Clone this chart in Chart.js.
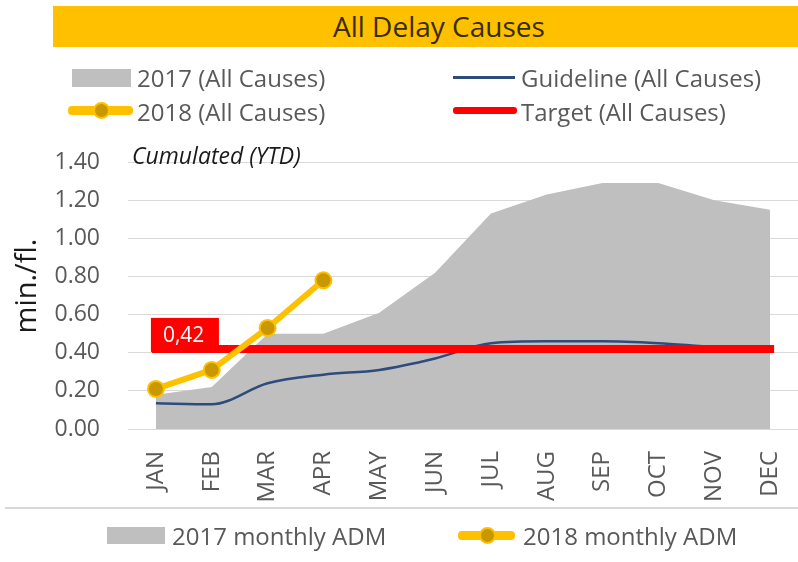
<!DOCTYPE html>
<html>
<head>
<meta charset="utf-8">
<script src="https://cdn.jsdelivr.net/npm/chart.js@4.4.1/dist/chart.umd.min.js"></script>
<style>
body{margin:0;background:#fff;font-family:"Open Sans",sans-serif;}
#wrap{position:relative;width:798px;height:562px;overflow:hidden;}
#chart{position:absolute;left:0;top:0;}
.abs{position:absolute;white-space:nowrap;}
#title{left:53px;top:6px;width:745px;height:41px;background:#FFC000;}
#title span{position:absolute;left:280px;top:0;line-height:41px;font-size:28px;color:#3b2c00;}
.txt{font-size:24px;line-height:24px;color:#595959;}
.box{background:#BFBFBF;}
.dot{width:13px;height:13px;border-radius:50%;background:#C99700;border:2px solid #FFC000;}
#ytd{left:132px;top:144px;font-size:23px;line-height:23px;font-style:italic;color:#1a1a1a;}
#sep{left:5px;top:507px;width:793px;height:2px;background:#d9d9d9;}
</style>
</head>
<body>
<div id="wrap">
<canvas id="chart" width="798" height="562"></canvas>
<div id="title" class="abs"><span>All Delay Causes</span></div>

<!-- top legend -->
<div class="abs box" style="left:72px;top:69px;width:59px;height:18px;"></div>
<div class="abs txt" style="left:137px;top:66px;">2017 (All Causes)</div>
<div class="abs" style="left:68px;top:106px;width:65px;height:9px;border-radius:4px;background:#FFC000;"></div>
<div class="abs dot" style="left:93px;top:102px;"></div>
<div class="abs txt" style="left:137px;top:100px;">2018 (All Causes)</div>
<div class="abs" style="left:453px;top:76px;width:62px;height:3px;background:#2F4B7C;"></div>
<div class="abs txt" style="left:521px;top:66px;">Guideline (All Causes)</div>
<div class="abs" style="left:453px;top:107px;width:64px;height:7px;border-radius:3px;background:#FF0000;"></div>
<div class="abs txt" style="left:521px;top:100px;">Target (All Causes)</div>

<div id="ytd" class="abs">Cumulated (YTD)</div>

<!-- bottom legend -->
<div id="sep" class="abs"></div>
<div class="abs box" style="left:107px;top:527px;width:58px;height:17px;"></div>
<div class="abs txt" style="left:172px;top:524px;">2017 monthly ADM</div>
<div class="abs" style="left:458px;top:531px;width:57px;height:9px;border-radius:4px;background:#FFC000;"></div>
<div class="abs dot" style="left:479px;top:527px;"></div>
<div class="abs txt" style="left:523px;top:524px;">2018 monthly ADM</div>
</div>

<script>
var months = ['JAN','FEB','MAR','APR','MAY','JUN','JUL','AUG','SEP','OCT','NOV','DEC'];
var cum2017 = [0.18,0.22,0.50,0.50,0.61,0.82,1.13,1.23,1.29,1.29,1.20,1.15];
var cum2018 = [0.21,0.31,0.53,0.78];
var guideline = [0.135,0.13,0.24,0.285,0.31,0.37,0.45,0.46,0.46,0.45,0.43,0.42];
var targetValue = 0.42;
var target = months.map(function(){ return targetValue; });

// red "0,42" box next to the first target point
var targetLabel = {
    id: 'targetLabel',
    afterDatasetsDraw: function (chart) {
        var pt = chart.getDatasetMeta(1).data[0];
        var ctx = chart.ctx;
        ctx.save();
        ctx.fillStyle = '#FF0000';
        ctx.fillRect(pt.x - 5, pt.y - 31, 68, 34);
        ctx.fillStyle = '#ffffff';
        ctx.font = '21px "Open Sans"';
        ctx.textBaseline = 'middle';
        ctx.fillText(targetValue.toFixed(2).replace('.', ','), pt.x + 7, pt.y - 13);
        ctx.restore();
    }
};

var ctx = document.getElementById('chart');
var myChart = new Chart(ctx, {
    type: 'line',
    data: {
        labels: months,
        datasets: [
            {
                label: '2018 (All Causes)',
                data: cum2018,
                borderColor: '#FFC000',
                borderWidth: 6,
                pointRadius: 8,
                pointBackgroundColor: '#C99700',
                pointBorderColor: '#FFC000',
                pointBorderWidth: 2,
                tension: 0
            },
            {
                label: 'Target (All Causes)',
                data: target,
                borderColor: '#FF0000',
                borderWidth: 8,
                borderCapStyle: 'square',
                pointRadius: 0,
                tension: 0
            },
            {
                label: 'Guideline (All Causes)',
                data: guideline,
                borderColor: '#2F4B7C',
                borderWidth: 2.5,
                pointRadius: 0,
                cubicInterpolationMode: 'monotone'
            },
            {
                label: '2017 (All Causes)',
                data: cum2017,
                borderWidth: 0,
                borderColor: 'rgba(0,0,0,0)',
                backgroundColor: '#BFBFBF',
                fill: 'origin',
                pointRadius: 0,
                tension: 0
            }
        ]
    },
    options: {
        responsive: false,
        devicePixelRatio: 1,
        animation: false,
        layout: { autoPadding: false, padding: { top: 143, left: 0, right: 0, bottom: 0 } },
        plugins: { legend: { display: false }, tooltip: { enabled: false } },
        scales: {
            x: {
                offset: true,
                grid: { display: false },
                border: { display: false },
                ticks: {
                    minRotation: 90, maxRotation: 90, autoSkip: false, padding: 14,
                    color: '#595959', font: { family: 'Open Sans', size: 24 }
                },
                afterFit: function (scale) {
                    scale.height = 133;
                    scale.paddingLeft = 0;
                    scale.paddingRight = 0;
                }
            },
            y: {
                min: 0, max: 1.5,
                border: { display: false },
                grid: {
                    drawTicks: false,
                    color: function (c) {
                        return Math.round(c.tick.value * 10) % 2 === 0 ? '#d9d9d9' : '#ececec';
                    }
                },
                ticks: {
                    stepSize: 0.1, padding: 28, color: '#595959',
                    font: { family: 'Open Sans', size: 23 },
                    callback: function (v) {
                        var n = Math.round(v * 10);
                        return (n % 2 === 0 && n <= 14) ? v.toFixed(2) : '';
                    }
                },
                title: {
                    display: true, text: 'min./fl.', color: '#1a1a1a',
                    font: { family: 'Open Sans', size: 29 },
                    padding: { top: 10, bottom: 0 }
                },
                afterFit: function (scale) { scale.width = 128; }
            }
        }
    },
    plugins: [targetLabel]
});
</script>
</body>
</html>
